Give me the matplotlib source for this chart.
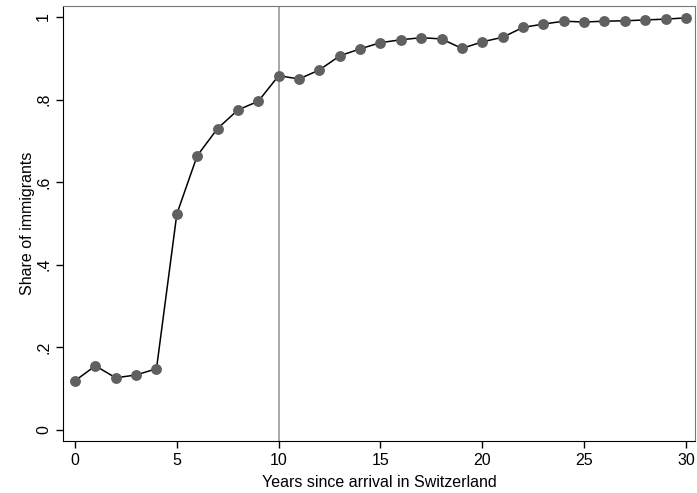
import matplotlib
matplotlib.use("Agg")
import matplotlib.pyplot as plt

plt.rcParams['font.family'] = ['Liberation Sans', 'DejaVu Sans']

# Years since arrival and share of immigrants
years = list(range(0, 31))
share = [0.119, 0.155, 0.126, 0.133, 0.148, 0.523, 0.664, 0.730, 0.775, 0.796,
         0.858, 0.850, 0.872, 0.906, 0.923, 0.938, 0.945, 0.950, 0.947, 0.924,
         0.940, 0.951, 0.975, 0.983, 0.990, 0.988, 0.990, 0.991, 0.993, 0.995,
         0.998]

xticks = [0, 5, 10, 15, 20, 25, 30]
yticks = [0, 0.2, 0.4, 0.6, 0.8, 1.0]
ytick_labels = ["0", ".2", ".4", ".6", ".8", "1"]

fig = plt.figure(figsize=(6.97, 4.93), dpi=100)
ax = fig.add_axes([0.0904, 0.1055, 0.9066, 0.8825])

ax.axvline(10, color='#999999', linewidth=1.2, zorder=1)
ax.plot(years, share, color='black', linewidth=1.1, marker='o',
        markersize=6.8, markerfacecolor='#606060', markeredgecolor='#606060',
        zorder=2)

ax.set_xlim(-0.59, 30.44)
ax.set_ylim(-0.027, 1.027)
ax.set_xticks(xticks)
ax.set_yticks(yticks)
ax.set_yticklabels(ytick_labels, rotation=90, va='center')
ax.tick_params(labelsize=11.5, length=5, width=1, color='black', pad=3.5)

for s in ['left', 'bottom']:
    ax.spines[s].set_color('black')
for s in ['top', 'right']:
    ax.spines[s].set_color('#777777')

ax.set_xlabel("Years since arrival in Switzerland", fontsize=11.5, labelpad=5)
ax.set_ylabel("Share of immigrants", fontsize=11.5, labelpad=1)

fig.savefig("out.png", dpi=100)
